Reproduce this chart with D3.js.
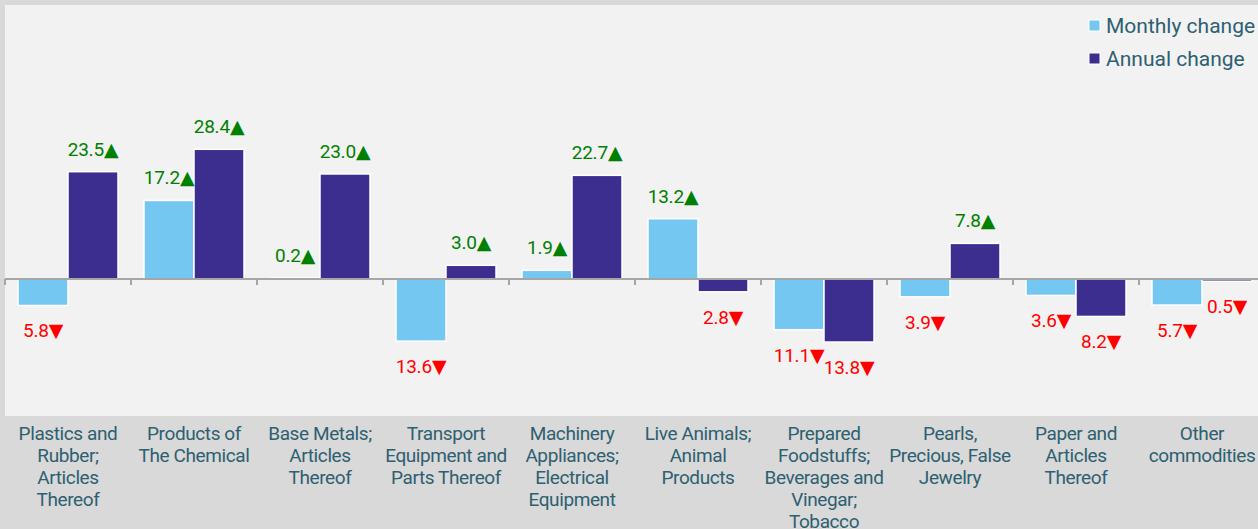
<!DOCTYPE html>
<html>
<head>
<meta charset="UTF-8">
<script src="https://d3js.org/d3.v7.min.js"></script>
<style>
  body { margin: 0; background: #d9d9d9; }
  svg { display: block; font-family: Roboto, "DejaVu Sans", sans-serif; }
</style>
</head>
<body>
<svg width="1258" height="529"></svg>
<script>
// categories, written as the wrapped tick label lines
var categories = [
  ["Plastics and", "Rubber;", "Articles", "Thereof"],
  ["Products of", "The Chemical"],
  ["Base Metals;", "Articles", "Thereof"],
  ["Transport", "Equipment and", "Parts Thereof"],
  ["Machinery", "Appliances;", "Electrical", "Equipment"],
  ["Live Animals;", "Animal", "Products"],
  ["Prepared", "Foodstuffs;", "Beverages and", "Vinegar;", "Tobacco"],
  ["Pearls,", "Precious, False", "Jewelry"],
  ["Paper and", "Articles", "Thereof"],
  ["Other", "commodities"]
];
var seriesNames = ["Monthly change", "Annual change"];
var monthly = [-5.8, 17.2, 0.2, -13.6, 1.9, 13.2, -11.1, -3.9, -3.6, -5.7];
var annual  = [23.5, 28.4, 23.0, 3.0, 22.7, -2.8, -13.8, 7.8, -8.2, -0.5];
var colors = ["#74c7f0", "#3b2e8e"];

var svg = d3.select("svg");

// plot background
var plotTop = 5, plotBottom = 416, plotLeft = 5, plotRight = 1265;
svg.append("rect").attr("x", plotLeft).attr("y", plotTop)
  .attr("width", plotRight - plotLeft).attr("height", plotBottom - plotTop)
  .attr("fill", "#f2f2f2");

var idx = d3.range(categories.length);
var x0 = d3.scaleBand().domain(idx).range([plotLeft, plotRight]);
var x1 = d3.scaleBand().domain([0, 1]).range([13, 113]);
var y = d3.scaleLinear().domain([-30, 60]).range([plotBottom, plotTop]);

var rows = [];
idx.forEach(function(i) {
  rows.push({ cat: i, s: 0, v: monthly[i] });
  rows.push({ cat: i, s: 1, v: annual[i] });
});

// bars
svg.append("g").selectAll("rect")
  .data(rows)
  .join("rect")
  .attr("x", function(d) { return x0(d.cat) + x1(d.s); })
  .attr("y", function(d) { return y(Math.max(0, d.v)); })
  .attr("width", x1.bandwidth())
  .attr("height", function(d) { return Math.abs(y(d.v) - y(0)); })
  .attr("fill", function(d) { return colors[d.s]; })
  .attr("stroke", "#fff")
  .attr("stroke-width", 1.5);

// baseline and ticks
svg.append("line")
  .attr("x1", plotLeft).attr("x2", plotRight)
  .attr("y1", y(0)).attr("y2", y(0))
  .attr("stroke", "#a6a6a6").attr("stroke-width", 2);
svg.append("g").selectAll("line")
  .data(idx)
  .join("line")
  .attr("x1", function(i) { return x0(i); })
  .attr("x2", function(i) { return x0(i); })
  .attr("y1", y(0)).attr("y2", y(0) + 6)
  .attr("stroke", "#a6a6a6").attr("stroke-width", 2);

// value labels
svg.append("g").selectAll("text")
  .data(rows)
  .join("text")
  .attr("x", function(d) { return x0(d.cat) + x1(d.s) + x1.bandwidth() / 2; })
  .attr("y", function(d) { return d.v >= 0 ? y(d.v) - 16 : y(d.v) + 32; })
  .attr("text-anchor", "middle")
  .attr("font-size", 19)
  .attr("letter-spacing", -0.2)
  .attr("fill", function(d) { return d.v >= 0 ? "#008000" : "#ff0000"; })
  .text(function(d) { return Math.abs(d.v).toFixed(1) + (d.v >= 0 ? "\u25B2" : "\u25BC"); });

// category labels
var lab = svg.append("g").selectAll("text")
  .data(idx)
  .join("text")
  .attr("x", function(i) { return x0(i) + x0.bandwidth() / 2; })
  .attr("y", 440)
  .attr("text-anchor", "middle")
  .attr("font-size", 19)
  .attr("letter-spacing", -0.4)
  .attr("fill", "#2d6070");
lab.selectAll("tspan")
  .data(function(i) { return categories[i]; })
  .join("tspan")
  .attr("x", function() { return d3.select(this.parentNode).attr("x"); })
  .attr("dy", function(d, j) { return j === 0 ? 0 : 22; })
  .text(function(d) { return d; });

// legend
var leg = svg.append("g").selectAll("g")
  .data(seriesNames)
  .join("g")
  .attr("transform", function(d, i) { return "translate(1089," + (20 + i * 33) + ")"; });
leg.append("rect")
  .attr("width", 11).attr("height", 11)
  .attr("fill", function(d, i) { return colors[i]; })
  .attr("stroke", "#fff").attr("stroke-width", 1);
leg.append("text")
  .attr("x", 17).attr("y", 13)
  .attr("font-size", 21)
  .attr("fill", "#2d6070")
  .text(function(d) { return d; });
</script>
</body>
</html>
